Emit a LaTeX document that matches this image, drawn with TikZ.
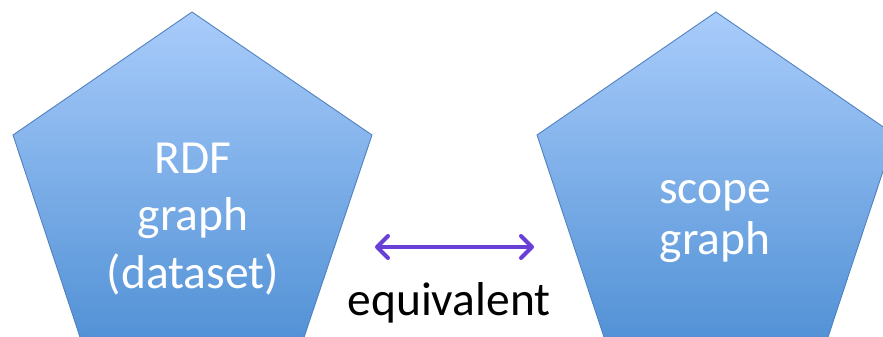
\documentclass[tikz,border=0pt]{standalone}
\usepackage{fontspec}
\setmainfont{Carlito}
\usetikzlibrary{arrows.meta}
\definecolor{pentTop}{RGB}{169,204,251}
\definecolor{pentBottom}{RGB}{78,143,212}
\definecolor{pentEdge}{RGB}{82,130,190}
\definecolor{equivPurple}{RGB}{104,64,216}
\tikzset{
  pentagon/.style={draw=pentEdge, line width=0.9pt, top color=pentTop, bottom color=pentBottom},
  pentlabel/.style={text=white, align=center, inner sep=0pt, anchor=base},
  relation/.style={draw=equivPurple, line width=4pt,
    {Straight Barb[length=11pt, width=22pt, line cap=round, line join=round]}-{Straight Barb[length=11pt, width=22pt, line cap=round, line join=round]}},
  relationlabel/.style={text=black, font=\fontsize{47.5}{56}\selectfont, inner sep=0pt, anchor=base}
}
\begin{document}
\begin{tikzpicture}[x=1pt, y=-1pt]
  \useasboundingbox (0,0) rectangle (883,337);
  \clip (0,0) rectangle (883,337);
  % left pentagon
  \path[pentagon] (192,12) -- (372,135) -- (298.4,354) -- (85.6,354) -- (13,135) -- cycle;
  % right pentagon
  \path[pentagon] (716,12) -- (895,135) -- (822.4,354) -- (609.6,354) -- (537,135) -- cycle;
  % labels are anchored at the baseline of their last line
  \node[pentlabel, font=\fontsize{47.5}{57.5}\selectfont] (rdf) at (193,288) {RDF\\graph\\(dataset)};
  \node[pentlabel, font=\fontsize{47.5}{51}\selectfont] (scope) at (715,254) {scope\\graph};
  \coordinate (arrowL) at (375,247);
  \coordinate (arrowR) at (534,247);
  \draw[relation] (arrowL) -- (arrowR);
  \node[relationlabel] (equiv) at (449,315) {equivalent};
\end{tikzpicture}
\end{document}
